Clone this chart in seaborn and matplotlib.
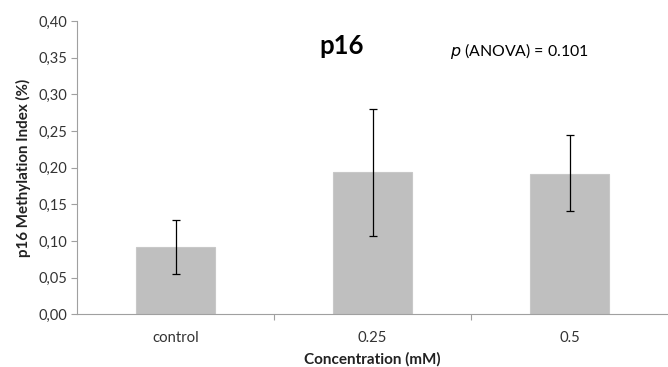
import matplotlib
matplotlib.use("Agg")
import matplotlib.pyplot as plt
import seaborn as sns
import pandas as pd
import numpy as np
from matplotlib.ticker import FuncFormatter, FixedLocator

categories = ["control", "0.25", "0.5"]
means = [0.092, 0.194, 0.192]
err_low = [0.037, 0.087, 0.051]
err_high = [0.037, 0.086, 0.052]
yticks = [0.00, 0.05, 0.10, 0.15, 0.20, 0.25, 0.30, 0.35, 0.40]

sns.set_theme(style="white")
plt.rcParams["font.family"] = ["Lato", "DejaVu Sans"]

df = pd.DataFrame({"cat": categories, "val": means})

fig = plt.figure(figsize=(6.68, 3.67), dpi=100)
ax = fig.add_axes([0.1153, 0.1436, 0.885, 0.7992])

sns.barplot(data=df, x="cat", y="val", color="#BFBFBF", width=0.4,
            edgecolor="#C8C8C8", linewidth=0.8, saturation=1, ax=ax, errorbar=None)
ax.errorbar(range(len(categories)), means, yerr=[err_low, err_high], fmt="none",
            ecolor="black", elinewidth=0.9, capsize=3, capthick=0.9)

ax.set_xlim(-0.5, 2.5)
ax.set_ylim(0, 0.40)
ax.set_yticks(yticks)
ax.yaxis.set_major_formatter(FuncFormatter(lambda v, p: f"{v:.2f}".replace(".", ",")))
ax.tick_params(axis="y", length=4, width=0.8, color="#A0A0A0", labelsize=10.5,
               labelcolor="#333333", pad=3, left=True)
ax.tick_params(axis="x", length=0, labelsize=10.7, labelcolor="#333333", pad=12)
ax.xaxis.set_minor_locator(FixedLocator([0.5, 1.5]))
ax.tick_params(axis="x", which="minor", length=4, width=0.8, color="#A0A0A0", bottom=True)

for s in ["top", "right"]:
    ax.spines[s].set_visible(False)
for s in ["left", "bottom"]:
    ax.spines[s].set_color("#A0A0A0")
    ax.spines[s].set_linewidth(0.8)

ax.set_xlabel("Concentration (mM)", fontsize=11, fontweight="bold", color="#222222", labelpad=5)
ax.set_ylabel("p16 Methylation Index (%)", fontsize=10.9, fontweight="bold", color="#222222", labelpad=5)

fig.text(0.511, 0.876, "p16", fontsize=18.5, fontweight="bold", ha="center", va="center", color="black")
fig.text(0.673, 0.862, r"$\it{p}$ (ANOVA) = 0.101", fontsize=11.4, ha="left", va="center", color="black")

fig.savefig("out.png", dpi=100)
